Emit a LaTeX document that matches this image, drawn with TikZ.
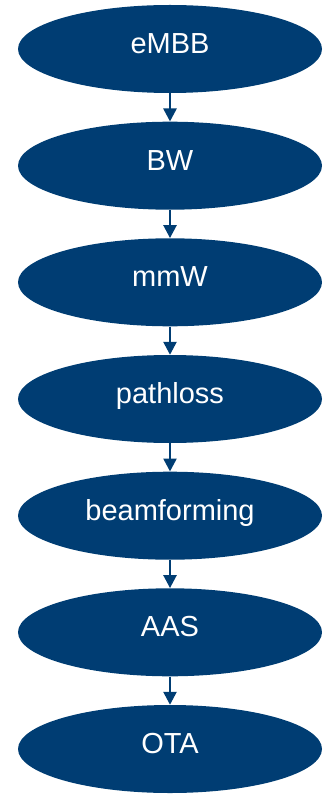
\documentclass[tikz,border=0pt]{standalone}
\usepackage{fontspec}
\setmainfont{Liberation Sans}
\usetikzlibrary{arrows.meta,shapes.geometric}
\definecolor{navy}{RGB}{0,61,115}
\begin{document}
\begin{tikzpicture}[x=1pt,y=-1pt,
  oval/.style={ellipse,fill=navy,draw=none,minimum width=304pt,minimum height=88pt,
    inner sep=0pt,text=white,font=\fontsize{29}{33}\selectfont,text height=20pt,text depth=11pt},
  conn/.style={draw=navy,line width=2.5pt,-{Triangle[width=13pt,length=13pt]}}]
\useasboundingbox (0,0) rectangle (325,794);
\node[oval] (n1) at (170,49) {eMBB};
\node[oval] (n2) at (170,165.7) {BW};
\node[oval] (n3) at (170,282.3) {mmW};
\node[oval] (n4) at (170,399) {pathloss};
\node[oval] (n5) at (170,515.7) {beamforming};
\node[oval] (n6) at (170,632.3) {AAS};
\node[oval] (n7) at (170,749) {OTA};
\foreach \a/\b in {n1/n2,n2/n3,n3/n4,n4/n5,n5/n6,n6/n7}
  \draw[conn] (\a.south) -- (\b.north);
\end{tikzpicture}
\end{document}
